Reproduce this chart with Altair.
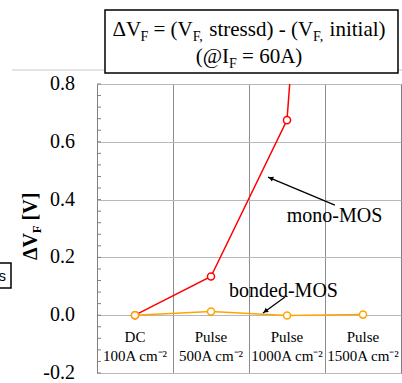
import altair as alt
import pandas as pd

# ---- data ----
cat_idx = [0, 1, 2, 3]
cat_line1 = ["DC", "Pulse", "Pulse", "Pulse"]
cat_line2 = ["100A cm\u207b\u00b2", "500A cm\u207b\u00b2", "1000A cm\u207b\u00b2", "1500A cm\u207b\u00b2"]
mono = [0.0, 0.134, 0.675, 4.2]
bonded = [0.0, 0.013, -0.001, 0.002]
y_major = [-0.2, 0.0, 0.2, 0.4, 0.6, 0.8]
y_labels = ["-0.2", "0.0", "0.2", "0.4", "0.6", "0.8"]
y_minor = [round(-0.2 + 0.04 * i, 2) for i in range(26)]
x_grid = [0.5, 1.5, 2.5]

SERIF = "Liberation Serif"
SANS = "Liberation Sans"
RED = "#ff0000"
ORANGE = "#ffa500"

df = pd.DataFrame({"idx": cat_idx, "mono": mono, "bonded": bonded,
                   "l1": cat_line1, "l2": cat_line2})

xs = alt.Scale(domain=[-0.5, 3.5], nice=False, zero=False)
ys = alt.Scale(domain=[-0.2, 0.8], nice=False, zero=False)

X_AX = alt.Axis(values=x_grid, grid=True, labels=False, ticks=False, domain=False, title="")
Y_AX = alt.Axis(values=y_major, grid=True, labels=False, ticks=False, domain=False, title="")


def X(f):
    return alt.X(f, scale=xs, axis=X_AX)


def Y(f):
    return alt.Y(f, scale=ys, axis=Y_AX)


base = alt.Chart(df)

red_line = base.mark_line(color=RED, strokeWidth=1.5, clip=True).encode(
    x=X("idx:Q"), y=Y("mono:Q"))
red_pts = base.mark_point(shape="circle", filled=True, fill="white", stroke=RED,
                          strokeWidth=1.5, size=50, opacity=1, clip=True).encode(
    x=X("idx:Q"), y=Y("mono:Q"))
org_line = base.mark_line(color=ORANGE, strokeWidth=1.5, clip=True).encode(
    x=X("idx:Q"), y=Y("bonded:Q"))
org_pts = base.mark_point(shape="circle", filled=True, fill="white", stroke=ORANGE,
                          strokeWidth=1.5, size=50, opacity=1, clip=True).encode(
    x=X("idx:Q"), y=Y("bonded:Q"))

# minor inward ticks on left
minor = alt.Chart(pd.DataFrame({"v": y_minor})).mark_rule(color="#808080", strokeWidth=1).encode(
    y=Y("v:Q"), x=alt.value(0), x2=alt.value(4))

# y tick labels
ylab = alt.Chart(pd.DataFrame({"v": y_major, "t": y_labels})).mark_text(
    font=SERIF, fontSize=20, color="black", align="right", baseline="middle").encode(
    y=Y("v:Q"), x=alt.value(-22), text="t:N")

# category labels inside plot
lab1 = base.mark_text(font=SERIF, fontSize=15, color="black", baseline="middle").encode(
    x=X("idx:Q"), y=alt.value(253), text="l1:N")
lab2 = base.mark_text(font=SERIF, fontSize=15, color="black", baseline="middle").encode(
    x=X("idx:Q"), y=alt.value(272), text="l2:N")

# annotations (data coordinates)
ann = pd.DataFrame({
    "t": ["mono-MOS", "bonded-MOS"],
    "x": [2.625, 1.954], "y": [0.3225, 0.063],
    "ax": [2.63, 1.974], "ay": [0.381, 0.063],
    "bx": [1.75, 1.684], "by": [0.478, 0.0076],
    "hx": [1.787, 1.716], "hy": [0.474, 0.0138],
    "ang": [292.7, 234.0],
})
ann_text = alt.Chart(ann).mark_text(font=SERIF, fontSize=20, color="black",
                                    align="center", baseline="alphabetic").encode(
    x=X("x:Q"), y=Y("y:Q"), text="t:N")
ann_rule = alt.Chart(ann).mark_rule(color="black", strokeWidth=1.3).encode(
    x=X("ax:Q"), y=Y("ay:Q"), x2="bx:Q", y2="by:Q")
ann_head = alt.Chart(ann).mark_point(shape="triangle-up", filled=True, color="black",
                                     size=28, opacity=1).encode(
    x=X("hx:Q"), y=Y("hy:Q"), angle=alt.Angle("ang:Q", scale=None))

# ---- outside decorations (pixel positions relative to the plot) ----
def one(txt):
    return alt.Chart(pd.DataFrame({"t": [txt]}))

gray_line = one("").mark_rule(color="#c8c8c8", strokeWidth=1).encode(
    x=alt.value(-85), x2=alt.value(305), y=alt.value(-14))
title_box = one("").mark_rect(fill="white", stroke="black", strokeWidth=1.5).encode(
    x=alt.value(8), x2=alt.value(301), y=alt.value(-74), y2=alt.value(-11))
s_box = one("").mark_rect(fill="white", stroke="black", strokeWidth=1.5).encode(
    x=alt.value(-105), x2=alt.value(-86), y=alt.value(179), y2=alt.value(204))
s_text = one("s").mark_text(font=SANS, fontSize=15, color="black", align="right",
                            baseline="middle").encode(
    x=alt.value(-91), y=alt.value(192), text="t:N")

W = {" ": 250, "(": 333, ")": 333, "=": 564, "-": 333, ",": 250, "@": 921, "A": 722,
     "F": 556, "I": 333, "V": 722, "\u0394": 612, "s": 389, "t": 278, "r": 333, "e": 444,
     "d": 500, "i": 278, "n": 500, "a": 444, "l": 278, "0": 500, "6": 500}
WB = {" ": 250, "[": 333, "]": 333, "V": 722, "F": 611, "\u0394": 612}


def width(s, size, table):
    return sum(table.get(c, 500) for c in s) * size / 1000.0


def rich_line(pieces, center_x, base_y, main, sub, sub_dy):
    total = sum(width(p, sub if s else main, W) for p, s in pieces)
    x = center_x - total / 2.0
    layers = []
    for p, s in pieces:
        size = sub if s else main
        lead = len(p) - len(p.lstrip(" "))
        txt = p.lstrip(" ")
        px = x + width(" " * lead, size, W)
        layers.append(one(txt).mark_text(font=SERIF, fontSize=size, color="black",
                                          align="left", baseline="alphabetic").encode(
            x=alt.value(px), y=alt.value(base_y + (sub_dy if s else 0)), text="t:N"))
        x += width(p, size, W)
    return layers

line1 = [("\u0394V", False), ("F", True), (" = (V", False), ("F,", True),
         (" stressd) - (V", False), ("F,", True), (" initial)", False)]
line2 = [("(@I", False), ("F", True), (" = 60A)", False)]
title_layers = rich_line(line1, 152, -48, 21, 14, 5) + rich_line(line2, 152, -21, 21, 14, 5)

# rotated y title: ΔV_F [V]
ytitle_layers = []
yy = 176
for p, s in [("\u0394V", False), ("F", True), (" [V]", False)]:
    size = 13 if s else 20
    lead = len(p) - len(p.lstrip(" "))
    txt = p.lstrip(" ")
    py = yy - width(" " * lead, size, WB)
    ytitle_layers.append(one(txt).mark_text(font=SERIF, fontSize=size, fontWeight="bold",
                                             color="black", angle=270, align="left",
                                             baseline="alphabetic").encode(
        x=alt.value(-60 + (4 if s else 0)), y=alt.value(py), text="t:N"))
    yy -= width(p, size, WB)

chart = alt.layer(
    red_line, minor, org_line, red_pts, org_pts, ylab, lab1, lab2,
    ann_rule, ann_head, ann_text,
    gray_line, title_box, s_box, s_text,
    *title_layers, *ytitle_layers,
).properties(
    width=304, height=289,
    padding={"left": 97, "top": 84, "right": 1, "bottom": 10},
    autosize=alt.AutoSizeParams(type="none"),
).configure_view(
    stroke="#808080", strokeWidth=1
).configure_axisY(
    gridColor="#b8b8b8", gridWidth=1
).configure_axisX(
    gridColor="#8c8c8c", gridWidth=1
)

chart.save("out.html", embed_options={"renderer": "svg", "actions": False})
